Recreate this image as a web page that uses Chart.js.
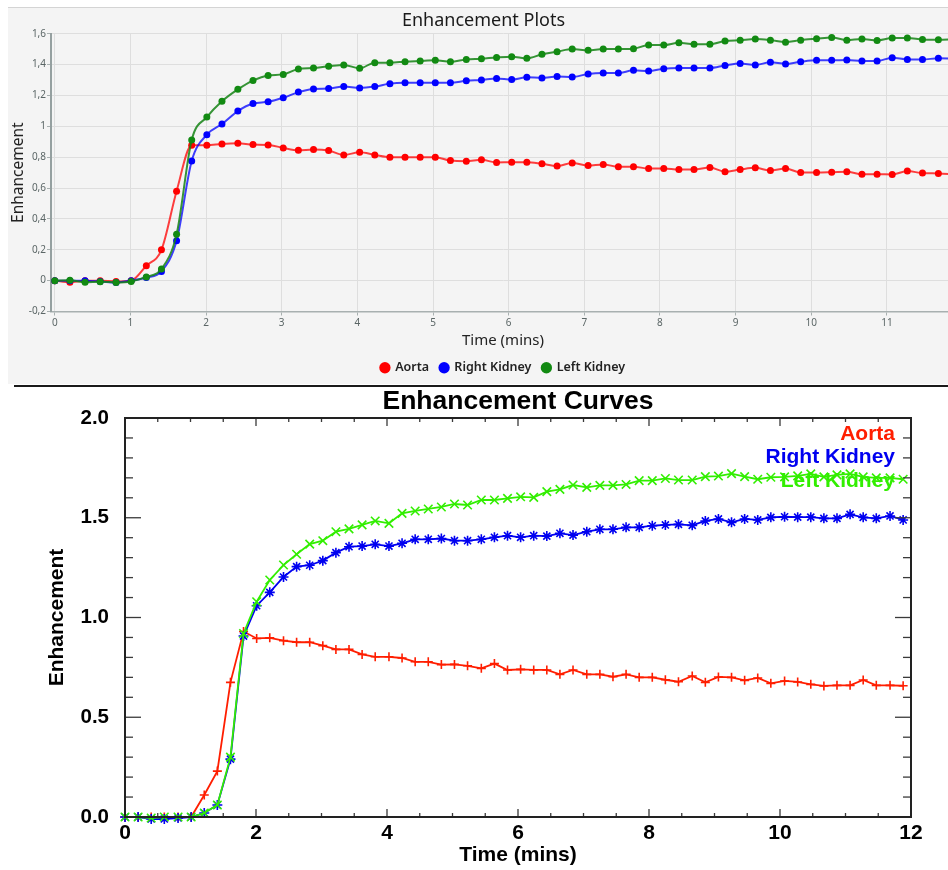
<!DOCTYPE html>
<html>
<head>
<meta charset="utf-8">
<script src="https://cdn.jsdelivr.net/npm/chart.js@4.4.1/dist/chart.umd.min.js"></script>
<style>
  html, body { margin:0; padding:0; background:#fff; width:948px; height:870px; overflow:hidden; }
  #top-panel { position:absolute; left:8px; top:7px; width:960px; height:376px; background:#f4f4f4; border-top:1px solid #d4d4d4; overflow:hidden; }
  #top-panel canvas { position:absolute; left:0; top:0; }
  #divider { position:absolute; left:14px; top:385px; width:934px; height:2px; background:#1a1a1a; }
  #bottom-wrap { position:absolute; left:0; top:388px; width:948px; height:482px; }
</style>
</head>
<body>
<div id="top-panel"><canvas id="chart-plots" width="951" height="376"></canvas></div>
<div id="divider"></div>
<div id="bottom-wrap"><canvas id="chart-curves" width="948" height="482"></canvas></div>

<script>
// time of each frame (mins)
const TIME = [0, 0.20, 0.40, 0.60, 0.81, 1.01, 1.21, 1.41, 1.61, 1.81,
  2.01, 2.21, 2.42, 2.62, 2.82, 3.02, 3.22, 3.42, 3.62, 3.82,
  4.03, 4.23, 4.43, 4.63, 4.83, 5.03, 5.23, 5.44, 5.64, 5.84,
  6.04, 6.24, 6.44, 6.64, 6.84, 7.05, 7.25, 7.45, 7.65, 7.85,
  8.05, 8.25, 8.45, 8.66, 8.86, 9.06, 9.26, 9.46, 9.66, 9.86,
  10.07, 10.27, 10.47, 10.67, 10.87, 11.07, 11.27, 11.47, 11.68, 11.88];

const SERIES_NAMES = ['Aorta', 'Right Kidney', 'Left Kidney'];

// top panel: "Enhancement Plots"
const PLOT_AORTA = [0, -0.01, 0, 0, -0.005, 0, 0.097, 0.2, 0.58, 0.877,
  0.877, 0.886, 0.89, 0.882, 0.88, 0.86, 0.845, 0.85, 0.843, 0.815,
  0.832, 0.815, 0.8, 0.8, 0.8, 0.8, 0.778, 0.774, 0.783, 0.766,
  0.768, 0.768, 0.757, 0.743, 0.763, 0.746, 0.753, 0.738, 0.738, 0.727,
  0.727, 0.72, 0.72, 0.733, 0.706, 0.72, 0.731, 0.714, 0.727, 0.701,
  0.701, 0.703, 0.706, 0.69, 0.69, 0.688, 0.71, 0.697, 0.695, 0.69];
const PLOT_RIGHT = [0, 0, 0, -0.005, -0.012, 0, 0.02, 0.06, 0.258, 0.776,
  0.946, 1.015, 1.099, 1.148, 1.159, 1.185, 1.222, 1.243, 1.245, 1.258,
  1.249, 1.258, 1.277, 1.282, 1.282, 1.282, 1.282, 1.295, 1.301, 1.31,
  1.303, 1.318, 1.314, 1.324, 1.32, 1.34, 1.346, 1.346, 1.363, 1.359,
  1.374, 1.378, 1.378, 1.378, 1.395, 1.408, 1.398, 1.415, 1.405, 1.419,
  1.428, 1.428, 1.43, 1.424, 1.424, 1.445, 1.434, 1.434, 1.441, 1.44];
const PLOT_LEFT = [0, 0.003, -0.01, -0.007, -0.012, -0.005, 0.024, 0.075, 0.3, 0.912,
  1.06, 1.163, 1.24, 1.297, 1.33, 1.337, 1.372, 1.378, 1.389, 1.398,
  1.376, 1.413, 1.413, 1.419, 1.424, 1.428, 1.419, 1.434, 1.439, 1.447,
  1.452, 1.441, 1.467, 1.484, 1.501, 1.493, 1.501, 1.501, 1.503, 1.527,
  1.527, 1.542, 1.533, 1.533, 1.553, 1.559, 1.566, 1.559, 1.546, 1.559,
  1.568, 1.576, 1.559, 1.566, 1.557, 1.572, 1.572, 1.563, 1.561, 1.565];
const PLOT_X_TICKS = [0, 1, 2, 3, 4, 5, 6, 7, 8, 9, 10, 11];
const PLOT_Y_TICKS = [-0.2, 0, 0.2, 0.4, 0.6, 0.8, 1, 1.2, 1.4, 1.6];

// bottom panel: "Enhancement Curves"
const CURVE_AORTA = [0, 0, 0, 0, 0, 0, 0.11, 0.23, 0.675, 0.93,
  0.895, 0.898, 0.884, 0.876, 0.876, 0.859, 0.84, 0.84, 0.815, 0.803,
  0.803, 0.797, 0.778, 0.778, 0.764, 0.765, 0.758, 0.745, 0.769, 0.737,
  0.74, 0.737, 0.737, 0.715, 0.737, 0.715, 0.715, 0.703, 0.715, 0.7,
  0.7, 0.688, 0.678, 0.707, 0.675, 0.702, 0.7, 0.685, 0.697, 0.67,
  0.682, 0.677, 0.665, 0.657, 0.66, 0.66, 0.687, 0.66, 0.66, 0.658];
const CURVE_RIGHT = [0, 0, -0.01, -0.01, -0.005, 0, 0.02, 0.06, 0.29, 0.907,
  1.059, 1.126, 1.203, 1.255, 1.262, 1.285, 1.325, 1.355, 1.358, 1.367,
  1.358, 1.372, 1.392, 1.392, 1.396, 1.385, 1.385, 1.392, 1.402, 1.41,
  1.402, 1.41, 1.408, 1.422, 1.413, 1.43, 1.442, 1.442, 1.452, 1.452,
  1.46, 1.464, 1.467, 1.462, 1.484, 1.494, 1.477, 1.494, 1.489, 1.502,
  1.505, 1.503, 1.503, 1.497, 1.497, 1.517, 1.502, 1.497, 1.509, 1.489];
const CURVE_LEFT = [0, 0, -0.005, 0, 0, 0, 0.02, 0.06, 0.3, 0.92,
  1.079, 1.188, 1.263, 1.317, 1.368, 1.385, 1.43, 1.444, 1.464, 1.484,
  1.472, 1.522, 1.534, 1.544, 1.554, 1.569, 1.564, 1.589, 1.589, 1.597,
  1.605, 1.602, 1.631, 1.642, 1.664, 1.652, 1.662, 1.662, 1.667, 1.686,
  1.686, 1.697, 1.689, 1.689, 1.706, 1.709, 1.721, 1.706, 1.693, 1.703,
  1.705, 1.71, 1.72, 1.705, 1.715, 1.72, 1.705, 1.7, 1.7, 1.693];
const CURVE_X_TICKS = [0, 2, 4, 6, 8, 10, 12];
const CURVE_X_MINOR = [0.5, 1, 1.5, 2.5, 3, 3.5, 4.5, 5, 5.5, 6.5, 7, 7.5, 8.5, 9, 9.5, 10.5, 11, 11.5];
const CURVE_Y_TICKS = [0, 0.5, 1, 1.5, 2];
const CURVE_Y_MINOR = [0.1, 0.2, 0.3, 0.4, 0.6, 0.7, 0.8, 0.9, 1.1, 1.2, 1.3, 1.4, 1.6, 1.7, 1.8, 1.9];

const pts = vals => TIME.map((t, i) => ({ x: t, y: vals[i] }));
const fixTicks = list => scale => { scale.ticks = list.map(v => ({ value: v })); };

// ---------- top chart ----------
const UI_FONT = '"Noto Sans", "Open Sans", sans-serif';
const plotColors = [['rgba(255,0,0,0.75)', '#ff0000'], ['rgba(0,0,255,0.75)', '#0000ff'], ['rgba(20,130,20,0.85)', '#128a12']];

new Chart(document.getElementById('chart-plots'), {
  type: 'line',
  data: {
    datasets: [PLOT_AORTA, PLOT_RIGHT, PLOT_LEFT].map((vals, i) => ({
      label: SERIES_NAMES[i],
      data: pts(vals),
      borderColor: plotColors[i][0],
      backgroundColor: plotColors[i][1],
      pointBackgroundColor: plotColors[i][1],
      pointBorderColor: plotColors[i][1],
      order: 3 - i
    }))
  },
  options: {
    responsive: false, animation: false,
    layout: { padding: { left: 0, right: 0, top: 0, bottom: 0 } },
    elements: {
      line: { borderWidth: 2, cubicInterpolationMode: 'monotone' },
      point: { radius: 3.5, borderWidth: 0 }
    },
    plugins: {
      title: { display: true, text: 'Enhancement Plots', color: '#1a1a1a',
        font: { family: UI_FONT, size: 18, weight: 'normal', lineHeight: 1.1 }, padding: { top: 3, bottom: 3 } },
      legend: {
        position: 'bottom', fullSize: false,
        labels: { usePointStyle: true, pointStyle: 'circle', boxWidth: 8, boxHeight: 8, padding: 11,
          color: '#222', font: { family: UI_FONT, size: 12.5, weight: '600' },
          sort: (a, b) => a.datasetIndex - b.datasetIndex }
      },
      tooltip: { enabled: false }
    },
    scales: {
      x: {
        type: 'linear', min: -0.05, max: 11.9,
        afterBuildTicks: fixTicks(PLOT_X_TICKS),
        afterFit: s => { s.height = 39; },
        grid: { color: '#dedede', tickLength: 4, tickColor: '#a8b0b0' },
        border: { color: '#a8b0b0', width: 1.5 },
        ticks: { color: '#5b6666', font: { family: UI_FONT, size: 10 }, padding: 2, maxRotation: 0 },
        title: { display: true, text: 'Time (mins)', color: '#222',
          font: { family: UI_FONT, size: 15, lineHeight: 1.1 }, padding: { top: 0, bottom: 2 } }
      },
      y: {
        min: -0.2, max: 1.6,
        afterBuildTicks: fixTicks(PLOT_Y_TICKS),
        afterFit: s => { s.width = 43; },
        grid: { color: '#dedede', tickLength: 4, tickColor: '#a8b0b0' },
        border: { color: '#95a0a0', width: 2 },
        ticks: { color: '#5b6666', font: { family: UI_FONT, size: 10 }, padding: 1,
          callback: v => String(Math.round(v * 10) / 10).replace('.', ',') },
        title: { display: true, text: 'Enhancement', color: '#222',
          font: { family: UI_FONT, size: 15.5, lineHeight: 1.1 }, padding: { top: 2, bottom: 0 } }
      }
    }
  }
});

// ---------- bottom chart ----------
const IDL_FONT = '"Liberation Sans", Arial, sans-serif';
const curveColors = ['rgb(255,30,0)', 'rgb(0,0,240)', 'rgb(50,238,0)'];
const curveMarkers = [['cross', 4.5], ['star', 5], ['crossRot', 6]];

const idlFrame = {
  id: 'idlFrame',
  beforeDatasetsDraw(chart) {
    const { ctx, chartArea } = chart;
    ctx.save();
    ctx.font = 'bold 21px ' + IDL_FONT;
    ctx.textAlign = 'right';
    ctx.textBaseline = 'middle';
    chart.data.datasets.forEach((ds, i) => {
      ctx.fillStyle = ds.borderColor;
      ctx.fillText(ds.label, chartArea.right - 16, chartArea.top + 16 + i * 23.5);
    });
    ctx.restore();
  },
  afterDatasetsDraw(chart) {
    const { ctx, chartArea: { left, right, top, bottom }, scales: { x, y } } = chart;
    ctx.save();
    ctx.strokeStyle = '#3a3a3a';
    ctx.lineWidth = 1.3;
    const seg = (x1, y1, x2, y2) => { ctx.beginPath(); ctx.moveTo(x1, y1); ctx.lineTo(x2, y2); ctx.stroke(); };
    CURVE_X_TICKS.forEach(v => { const p = x.getPixelForValue(v); seg(p, bottom, p, bottom - 8); seg(p, top, p, top + 8); });
    CURVE_X_MINOR.forEach(v => { const p = x.getPixelForValue(v); seg(p, bottom, p, bottom - 4); seg(p, top, p, top + 4); });
    CURVE_Y_TICKS.forEach(v => { const p = y.getPixelForValue(v); seg(left, p, left + 16, p); seg(right, p, right - 16, p); });
    CURVE_Y_MINOR.forEach(v => { const p = y.getPixelForValue(v); seg(left, p, left + 8, p); seg(right, p, right - 8, p); });
    ctx.strokeStyle = '#222';
    ctx.lineWidth = 2;
    ctx.strokeRect(left, top, right - left, bottom - top);
    ctx.restore();
  }
};

new Chart(document.getElementById('chart-curves'), {
  type: 'line',
  data: {
    datasets: [CURVE_AORTA, CURVE_RIGHT, CURVE_LEFT].map((vals, i) => ({
      label: SERIES_NAMES[i],
      data: pts(vals),
      borderColor: curveColors[i],
      backgroundColor: curveColors[i],
      borderWidth: 1.8,
      pointStyle: curveMarkers[i][0],
      pointRadius: curveMarkers[i][1],
      pointBorderWidth: 1.6,
      tension: 0,
      clip: false,
      order: 3 - i
    }))
  },
  options: {
    responsive: false, animation: false,
    layout: { padding: { left: 0, right: 37, top: 0, bottom: 0 } },
    plugins: {
      title: { display: true, text: 'Enhancement Curves', color: '#000', fullSize: false,
        font: { family: IDL_FONT, size: 26.5, weight: 'bold', lineHeight: 1 }, padding: { top: 0, bottom: 3.5 } },
      legend: { display: false },
      tooltip: { enabled: false }
    },
    scales: {
      x: {
        type: 'linear', min: 0, max: 12,
        afterBuildTicks: fixTicks(CURVE_X_TICKS),
        afterFit: s => { s.height = 53; },
        grid: { display: false },
        border: { display: false },
        ticks: { color: '#000', font: { family: IDL_FONT, size: 21, weight: 'bold' }, padding: -4, maxRotation: 0 },
        title: { display: true, text: 'Time (mins)', color: '#000',
          font: { family: IDL_FONT, size: 21, weight: 'bold' }, padding: { top: 0, bottom: 2 } }
      },
      y: {
        min: 0, max: 2,
        afterBuildTicks: fixTicks(CURVE_Y_TICKS),
        afterFit: s => { s.width = 125; },
        grid: { display: false },
        border: { display: false },
        ticks: { color: '#000', font: { family: IDL_FONT, size: 20.5, weight: 'bold' }, padding: 8,
          callback: v => v.toFixed(1) },
        title: { display: true, text: 'Enhancement', color: '#000',
          font: { family: IDL_FONT, size: 21, weight: 'bold' }, padding: { top: 45, bottom: 0 } }
      }
    }
  },
  plugins: [idlFrame]
});
</script>
</body>
</html>
